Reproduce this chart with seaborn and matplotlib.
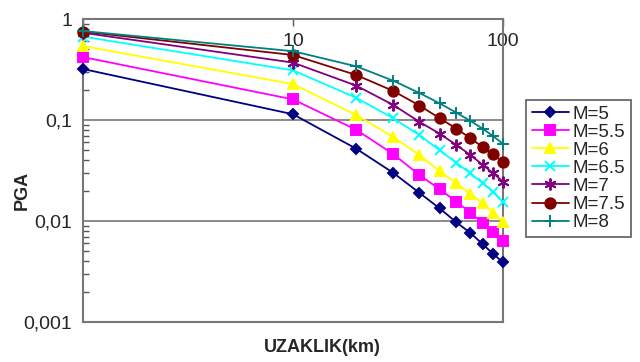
import matplotlib
matplotlib.use("Agg")
import matplotlib.pyplot as plt
import seaborn as sns
import numpy as np
import pandas as pd
from matplotlib.ticker import FixedLocator, LogLocator, NullFormatter

distance = [1, 10, 20, 30, 40, 50, 60, 70, 80, 90, 100]
m5 = [0.32, 0.114, 0.052, 0.030, 0.019, 0.0133, 0.0097, 0.0076, 0.0059, 0.0047, 0.0039]
m55 = [0.42, 0.160, 0.080, 0.046, 0.0285, 0.0206, 0.0155, 0.0121, 0.0095, 0.0077, 0.0063]
m6 = [0.54, 0.227, 0.112, 0.068, 0.045, 0.031, 0.0237, 0.0185, 0.015, 0.0121, 0.0097]
m65 = [0.67, 0.31, 0.166, 0.104, 0.071, 0.050, 0.0377, 0.0296, 0.0237, 0.0195, 0.0155]
m7 = [0.73, 0.37, 0.219, 0.141, 0.096, 0.073, 0.0566, 0.045, 0.036, 0.0296, 0.0245]
m75 = [0.75, 0.44, 0.279, 0.194, 0.139, 0.104, 0.082, 0.066, 0.054, 0.046, 0.038]
m8 = [0.76, 0.48, 0.34, 0.245, 0.185, 0.146, 0.118, 0.098, 0.082, 0.069, 0.058]

labels = ["M=5", "M=5.5", "M=6", "M=6.5", "M=7", "M=7.5", "M=8"]
series = [m5, m55, m6, m65, m7, m75, m8]
colors = ["#000080", "#FF00FF", "#FFFF00", "#00FFFF", "#800080", "#800000", "#008080"]
markers = ["D", "s", "^", "x", (6, 2, 0), "o", "+"]
msizes = [5.5, 7, 7.5, 7.5, 8.5, 7.5, 8.5]

ytick_vals = [0.001, 0.01, 0.1, 1]
ytick_labels = ["0,001", "0,01", "0,1", "1"]
xtick_vals = [1, 10, 100]
xtick_labels = ["", "10", "100"]

sns.set_style("white")
plt.rcParams["font.family"] = ["Liberation Sans", "DejaVu Sans"]

fig = plt.figure(figsize=(6.4, 3.62), dpi=100)
ax = fig.add_axes([83 / 640, 1 - 322 / 362, (503 - 83) / 640, (322 - 19) / 362])

for lab, ys, c, mk, ms in zip(labels, series, colors, markers, msizes):
    df = pd.DataFrame({"x": distance, "y": ys})
    sns.lineplot(data=df, x="x", y="y", ax=ax, color=c, marker=mk,
                 markersize=ms, markeredgecolor=c, markeredgewidth=1.4,
                 linewidth=1.3, label=lab, legend=False, zorder=3,
                 clip_on=False)

ax.set_xscale("log")
ax.set_yscale("log")
ax.set_xlim(1, 100)
ax.set_ylim(0.001, 1)

ax.yaxis.set_major_locator(FixedLocator(ytick_vals))
ax.set_yticklabels(ytick_labels)
ax.yaxis.set_minor_locator(LogLocator(base=10, subs=np.arange(2, 10)))
ax.yaxis.set_minor_formatter(NullFormatter())
ax.tick_params(axis="y", which="major", length=0, labelsize=14, pad=8)
ax.tick_params(axis="y", which="minor", direction="in", length=4, width=1, color="#555555", left=True)

ax.xaxis.set_major_locator(FixedLocator(xtick_vals))
ax.set_xticklabels(xtick_labels)
ax.xaxis.set_minor_locator(FixedLocator([]))
ax.xaxis.tick_top()
ax.tick_params(axis="x", which="major", direction="in", length=5, width=1,
               color="#555555", labelsize=14, pad=-22, top=True, bottom=False)

ax.grid(axis="y", which="major", color="#777777", linewidth=1.2)
ax.grid(axis="x", visible=False)
for s in ax.spines.values():
    s.set_color("#777777")
    s.set_linewidth(1.5)
    s.set_visible(True)

ax.set_xlabel("")
ax.set_ylabel("")
fig.text(322 / 640, 1 - 347 / 362, "UZAKLIK(km)", ha="center", va="center",
         fontsize=13, fontweight="bold")
fig.text(22 / 640, 1 - 190 / 362, "PGA", ha="center", va="center",
         rotation=90, fontsize=13, fontweight="bold")

handles, labs = ax.get_legend_handles_labels()
leg = fig.legend(handles, labs, loc="upper left",
                 bbox_to_anchor=(526 / 640, 1 - 100 / 362),
                 fontsize=13.5, frameon=True, fancybox=False,
                 edgecolor="#333333", handlelength=2.0, handletextpad=0.2,
                 labelspacing=0.05, borderpad=0.3, borderaxespad=0)
leg.get_frame().set_linewidth(1.2)

fig.savefig("out.png", dpi=100, facecolor="white")
